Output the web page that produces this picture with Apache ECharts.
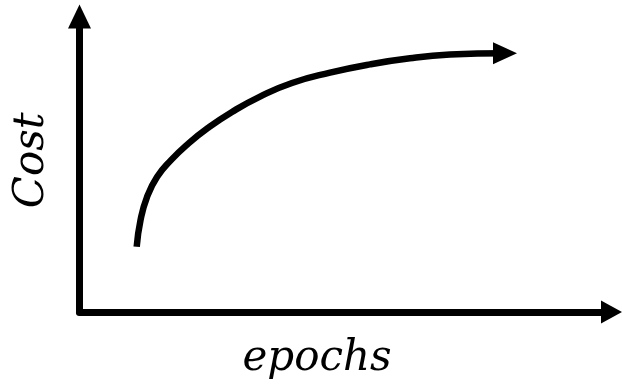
<!DOCTYPE html>
<html>
<head>
<meta charset="utf-8">
<script src="https://cdn.jsdelivr.net/npm/echarts@6/dist/echarts.min.js"></script>
<style>
  html, body { margin: 0; padding: 0; background: #fff; }
  #chart { width: 622px; height: 386px; }
</style>
</head>
<body>
<div id="chart"></div>
<script>
// values, both axes run 0..100
const epochs = [10.75, 11.47, 12.69, 14.57, 17.2, 20.39, 24.15, 28.67, 33.93, 39.94, 47.09, 54.61, 62.12, 69.64, 79.98];
const cost   = [22.1, 31.1, 38.9, 45.7, 51.4, 56.9, 62.3, 67.7, 72.9, 77.5, 81.0, 83.8, 85.85, 87.1, 87.6];
const axisNames = ['epochs', 'Cost'];

let myChart = echarts.init(document.getElementById('chart'));

let data = epochs.map((x, i) => {
  let item = { value: [x, cost[i]] };
  if (i === epochs.length - 1) {
    item.symbol = 'triangle';
    item.symbolSize = [22, 24];
    item.symbolRotate = -90;
  }
  return item;
});

let nameStyle = {
  color: '#000',
  fontFamily: 'DejaVu Serif',
  fontStyle: 'italic',
  fontSize: 42
};

myChart.setOption({
  animation: false,
  grid: {
    left: 79.5,
    right: 10.5,
    top: 16.5,
    bottom: 74,
    outerBoundsMode: 'none'
  },
  xAxis: {
    type: 'value',
    min: 0,
    max: 100,
    name: axisNames[0],
    nameLocation: 'middle',
    nameGap: 26,
    nameTextStyle: Object.assign({ padding: [0, 57, 0, 0] }, nameStyle),
    axisLine: {
      show: true,
      symbol: ['none', 'triangle'],
      symbolSize: [23, 21],
      lineStyle: { color: '#000', width: 7 }
    },
    axisTick: { show: false },
    axisLabel: { show: false },
    splitLine: { show: false }
  },
  yAxis: {
    type: 'value',
    min: 0,
    max: 100,
    name: axisNames[1],
    nameLocation: 'middle',
    nameGap: 26,
    nameTextStyle: Object.assign({ padding: [0, 0, 0, 8] }, nameStyle),
    axisLine: {
      show: true,
      symbol: ['none', 'triangle'],
      symbolSize: [23, 24],
      lineStyle: { color: '#000', width: 7 }
    },
    axisTick: { show: false },
    axisLabel: { show: false },
    splitLine: { show: false }
  },
  series: [
    {
      type: 'line',
      smooth: true,
      symbol: 'none',
      showSymbol: true,
      itemStyle: { color: '#000' },
      lineStyle: { color: '#000', width: 6.5 },
      data: data
    }
  ]
});
</script>
</body>
</html>
